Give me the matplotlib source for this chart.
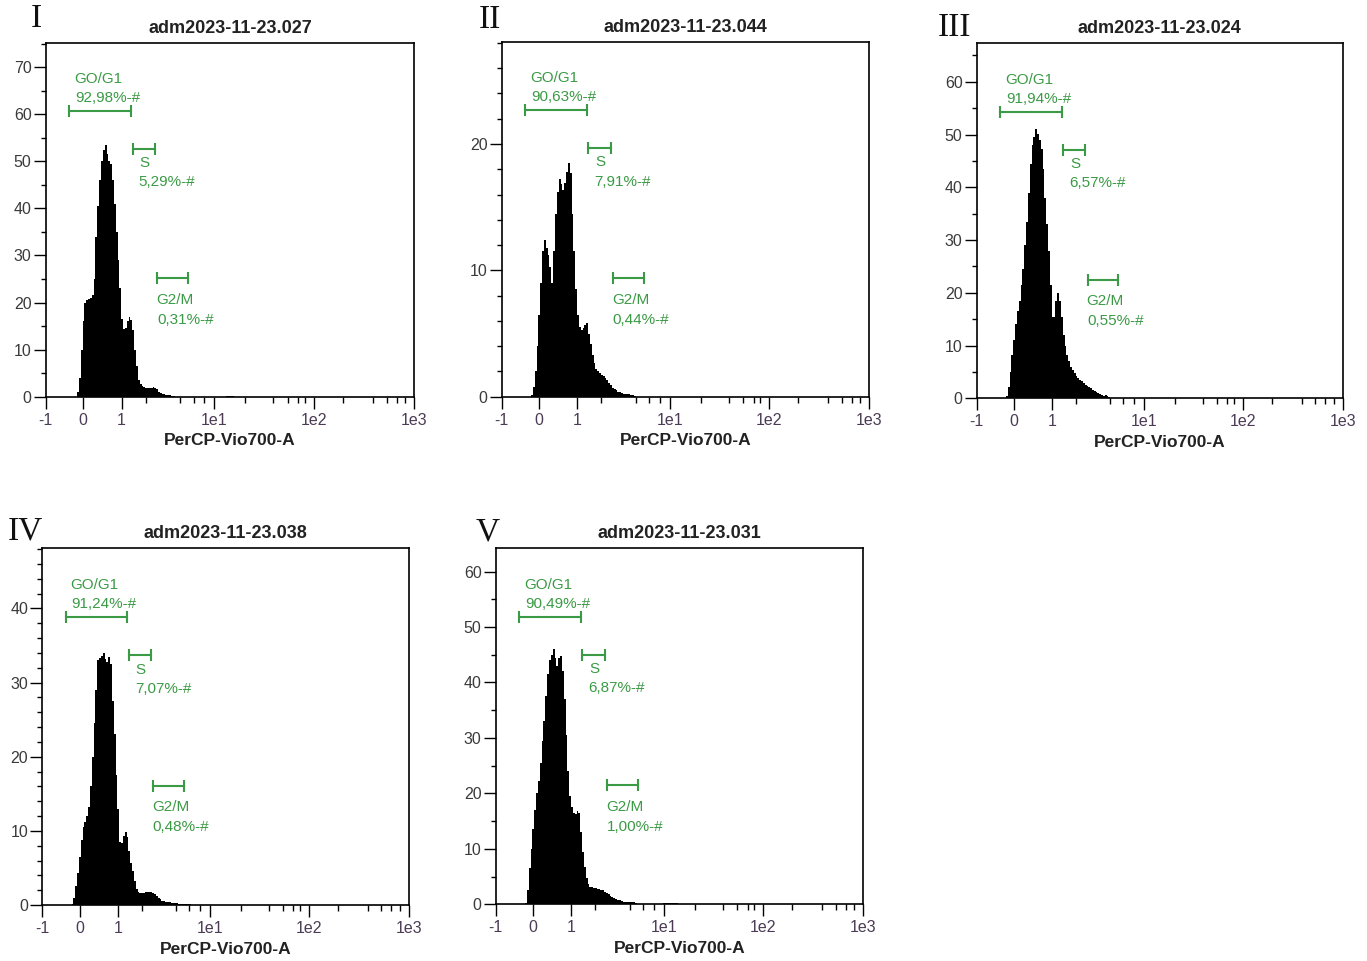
import numpy as np
import matplotlib
matplotlib.use("Agg")
import matplotlib.pyplot as plt
import matplotlib.transforms as mtransforms
from matplotlib.ticker import FixedLocator, MultipleLocator

plt.rcParams['font.family'] = ['Liberation Sans', 'DejaVu Sans']

# ---------------- data ----------------
# Histograms: 200 display channels across the axis (from -1 to 1e3);
# stored counts start at channel FIRST_CHANNEL.
N_CHANNELS = 200
FIRST_CHANNEL = 15

counts_I = [0, 0, 1, 4, 10, 16, 20, 20.5, 20.8, 21, 21.5, 25, 34, 40.5, 46, 50, 52.5, 53.4,
            51.5, 50, 49.5, 46, 41, 35, 29, 23, 16.5, 14.3, 14.5, 16, 17, 16.2, 14.2, 10, 6.5,
            3.5, 2.6, 2.2, 2.0, 1.8, 1.8, 1.8, 1.9, 2.0, 1.9, 1.6, 1.1, 0.8, 0.6, 0.5, 0.4,
            0.3, 0.3, 0.2, 0.1] + [0] * 28 + [0.15, 0.25, 0.25, 0.15]

counts_II = [0, 0.1, 0.8, 2, 4, 6.5, 9, 11.5, 12.4, 11.8, 11.2, 10.3, 9.0, 11.5, 14.5, 16.2,
             17.2, 16.8, 16.4, 16.9, 17.8, 18.5, 17.7, 14.5, 11.5, 8.5, 6.5, 5.5, 5.3, 5.4,
             5.7, 5.8, 5.0, 4.2, 3.3, 2.7, 2.2, 2.0, 1.9, 1.7, 1.6, 1.5, 1.3, 1.1, 0.9, 0.7,
             0.6, 0.5, 0.4, 0.35, 0.3, 0.25, 0.2, 0.2, 0.2, 0.15, 0.1, 0.05]

counts_III = [0, 0.5, 2.2, 5, 8.2, 11, 14, 16.5, 18.5, 21.5, 24.5, 29, 33.5, 39, 44.5, 48,
              49.5, 51, 50.2, 49, 47.2, 43.5, 38, 33, 28, 21.5, 15.5, 15.5, 18.5, 19.9, 18.5,
              15.5, 12, 10, 8.3, 7, 6, 5.4, 4.8, 4.3, 3.8, 3.5, 3.2, 2.9, 2.6, 2.4, 2.2, 1.9,
              1.6, 1.4, 1.2, 1.0, 0.8, 0.6, 0.5, 0.55, 0.5, 0.3, 0.1]

counts_IV = [0, 0.2, 1, 2.5, 4.3, 6.5, 8.8, 10.5, 11.2, 12, 13.2, 16, 20, 24.5, 29, 33, 33.3,
             33.6, 34, 33.2, 32.8, 33.5, 32.5, 27.5, 23, 17.5, 13, 8.5, 8.3, 9.3, 9.9, 9.2,
             7.3, 5.7, 4.6, 3.3, 2.2, 1.8, 1.6, 1.6, 1.6, 1.7, 1.8, 1.8, 1.7, 1.6, 1.5, 1.2,
             0.9, 0.8, 0.6, 0.5, 0.45, 0.4, 0.35, 0.3, 0.3, 0.25, 0.25, 0.2, 0.2, 0.2, 0.2,
             0.2, 0.15, 0.1]

counts_V = [0, 0.3, 2.5, 6.5, 10, 13.5, 17, 20, 22.2, 25.5, 29.5, 33, 37.5, 41.5, 44, 45, 46,
            44.5, 43, 44.5, 44.8, 42, 37, 30.5, 24, 19.5, 17.5, 16.4, 16.2, 16.8, 16.5, 13,
            9.5, 6.8, 4.8, 3.6, 3.2, 3.1, 3.0, 2.9, 2.8, 2.7, 2.6, 2.5, 2.3, 2.1, 1.8, 1.5,
            1.3, 1.1, 0.9, 0.8, 0.7, 0.6, 0.5, 0.5, 0.5, 0.45, 0.45, 0.4, 0.35, 0.3, 0.1] \
           + [0] * 13 + [0.25] * 8

sample_titles = ["adm2023-11-23.027", "adm2023-11-23.044", "adm2023-11-23.024",
                 "adm2023-11-23.038", "adm2023-11-23.031"]
panel_numerals = ["I", "II", "III", "IV", "V"]

gate_names = ["GO/G1", "S", "G2/M"]
gate_lo = [0.064, 0.236, 0.303]   # display-channel fraction of axis
gate_hi = [0.232, 0.297, 0.386]
gate_pct_I = ["92,98%-#", "5,29%-#", "0,31%-#"]
gate_pct_II = ["90,63%-#", "7,91%-#", "0,44%-#"]
gate_pct_III = ["91,94%-#", "6,57%-#", "0,55%-#"]
gate_pct_IV = ["91,24%-#", "7,07%-#", "0,48%-#"]
gate_pct_V = ["90,49%-#", "6,87%-#", "1,00%-#"]

x_tick_pos = [0.0, 0.102, 0.206, 0.457, 0.727, 1.0]
x_tick_labels = ["-1", "0", "1", "1e1", "1e2", "1e3"]
x_minor_pos = [0.271, 0.364, 0.401, 0.430, 0.541, 0.618, 0.656, 0.685, 0.703,
               0.807, 0.889, 0.925, 0.952, 0.975]
x_label = "PerCP-Vio700-A"

y_top = [75.2, 28.1, 67.3, 48.1, 64.3]
y_minor_step = [5, 2, 5, 2, 5]

# ---------------- layout / style ----------------
W, H = 1367, 961
PT = 0.72  # points per pixel at 100 dpi
GREEN = "#3b9a45"
XTICK_C = "#4b3b55"
YTICK_C = "#3a3a3a"
TEXT_C = "#222222"

frames_px = [(45.7, 42.7, 414.3, 396.7), (501.7, 41.7, 869.3, 396.7),
             (976.7, 43.3, 1342.7, 398.3), (42.3, 548.3, 408.7, 905.0),
             (495.7, 547.7, 863.3, 904.3)]
numeral_px = [(36.5, 19), (490, 20), (954, 27.5), (25, 531), (487.5, 532)]
gate_y = [0.807, 0.700, 0.334]
name_off = [(5, 32), (7, -14.3), (-1, -21.5)]
pct_off = [(6, 13), (6, -33.5), (-0.5, -41.5)]

all_counts = [counts_I, counts_II, counts_III, counts_IV, counts_V]
all_pcts = [gate_pct_I, gate_pct_II, gate_pct_III, gate_pct_IV, gate_pct_V]

fig = plt.figure(figsize=(W / 100, H / 100), dpi=100)
fig.patch.set_facecolor("white")
edges = np.linspace(0, 1, N_CHANNELS + 1)

for i in range(5):
    l, t, r, b = frames_px[i]
    ax = fig.add_axes([l / W, 1 - b / H, (r - l) / W, (b - t) / H])
    full = np.zeros(N_CHANNELS)
    c = np.asarray(all_counts[i], dtype=float)
    full[FIRST_CHANNEL:FIRST_CHANNEL + len(c)] = c
    ax.stairs(full, edges, fill=True, color="black", linewidth=0)

    ax.set_xlim(0, 1)
    ax.set_ylim(0, y_top[i])
    ax.xaxis.set_major_locator(FixedLocator(x_tick_pos))
    ax.set_xticklabels(x_tick_labels)
    ax.xaxis.set_minor_locator(FixedLocator(x_minor_pos))
    ax.yaxis.set_major_locator(MultipleLocator(10))
    ax.yaxis.set_minor_locator(MultipleLocator(y_minor_step[i]))
    ax.tick_params(axis="both", which="both", direction="out", color="black", width=1)
    ax.tick_params(axis="x", which="major", length=12 * PT, pad=3,
                   labelsize=11.5, labelcolor=XTICK_C)
    ax.tick_params(axis="y", which="major", length=12 * PT, pad=1.5,
                   labelsize=11.5, labelcolor=YTICK_C)
    ax.tick_params(axis="x", which="minor", length=6 * PT)
    ax.tick_params(axis="y", which="minor", length=5 * PT)
    for sp in ax.spines.values():
        sp.set_linewidth(1.2)
        sp.set_color("black")

    trans = mtransforms.blended_transform_factory(ax.transData, ax.transAxes)
    for g in range(3):
        ax.plot([gate_lo[g], gate_hi[g]], [gate_y[g], gate_y[g]], color=GREEN, lw=1.5,
                marker="|", ms=12 * PT, mew=1.5, transform=trans, clip_on=False)
        ax.annotate(gate_names[g], xy=(gate_lo[g], gate_y[g]), xycoords=trans,
                    xytext=(name_off[g][0] * PT, name_off[g][1] * PT),
                    textcoords="offset points", ha="left", va="center",
                    color=GREEN, fontsize=11)
        ax.annotate(all_pcts[i][g], xy=(gate_lo[g], gate_y[g]), xycoords=trans,
                    xytext=(pct_off[g][0] * PT, pct_off[g][1] * PT),
                    textcoords="offset points", ha="left", va="center",
                    color=GREEN, fontsize=11)

    ax.annotate(sample_titles[i], xy=(0.5, 1), xycoords="axes fraction",
                xytext=(0, 14.5 * PT), textcoords="offset points", ha="center",
                va="center", fontsize=13, fontweight="bold", color=TEXT_C)
    ax.annotate(x_label, xy=(0.5, 0), xycoords="axes fraction",
                xytext=(0, -44 * PT), textcoords="offset points", ha="center",
                va="center", fontsize=12.5, fontweight="bold", color=TEXT_C)

    nx, ny = numeral_px[i]
    fig.text(nx / W, 1 - ny / H, panel_numerals[i], fontsize=24,
             family=["Liberation Serif", "DejaVu Serif"], ha="center", va="center",
             color="#111111")

fig.savefig("out.png", dpi=100, facecolor="white")
